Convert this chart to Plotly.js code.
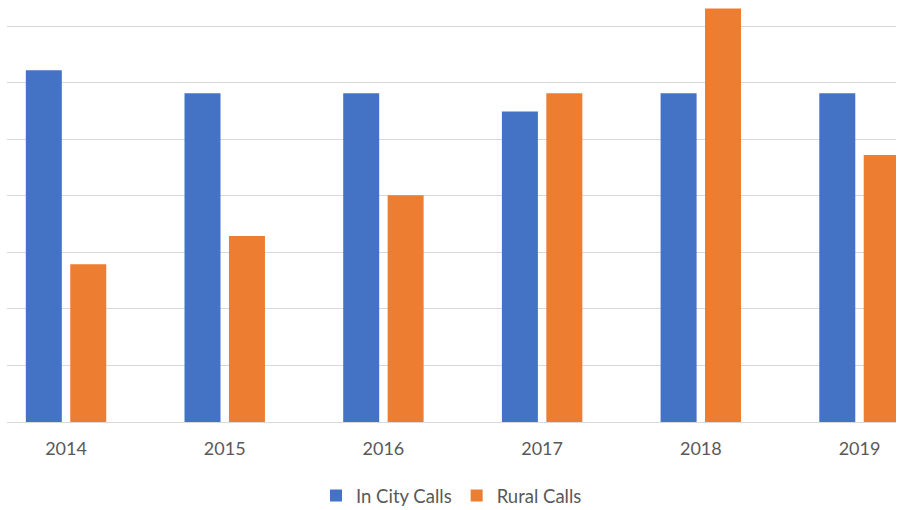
<!DOCTYPE html>
<html>
<head>
<meta charset="utf-8">
<script src="https://cdn.plot.ly/plotly-3.0.1.min.js"></script>
<style>html,body{margin:0;padding:0;background:#fff;}#chart{width:906px;height:510px;}</style>
</head>
<body>
<div id="chart"></div>
<script>
const years = ['2014', '2015', '2016', '2017', '2018', '2019'];
const inCityCalls = [6.22, 5.81, 5.81, 5.49, 5.81, 5.81];
const ruralCalls = [2.79, 3.29, 4.01, 5.81, 7.31, 4.72];

const traces = [
  {type: 'bar', name: 'In City Calls', x: years, y: inCityCalls,
   marker: {color: '#4472C4'}, hoverinfo: 'x+y'},
  {type: 'bar', name: 'Rural Calls', x: years, y: ruralCalls,
   marker: {color: '#ED7D31'}, hoverinfo: 'x+y'}
];

const layout = {
  width: 906, height: 510,
  margin: {l: 7, r: 10, t: 0, b: 88, autoexpand: false},
  paper_bgcolor: '#ffffff', plot_bgcolor: '#ffffff',
  barmode: 'group', bargap: 0.44, bargroupgap: 0.19,
  font: {family: 'Lato, "Open Sans", sans-serif', size: 17, color: '#595959'},
  xaxis: {type: 'category', range: [-0.372, 5.23], showgrid: false, automargin: false,
    showline: false, ticks: 'outside', ticklen: 10, tickcolor: 'rgba(0,0,0,0)',
    tickfont: {size: 18, color: '#595959'}, fixedrange: true},
  yaxis: {range: [0, 7.46], dtick: 1, showticklabels: false, showgrid: true, automargin: false,
    gridcolor: '#d9d9d9', gridwidth: 1, zeroline: true, zerolinecolor: '#d9d9d9',
    zerolinewidth: 1, showline: false, fixedrange: true},
  showlegend: true,
  legend: {orientation: 'h', x: 0.5, xanchor: 'center', y: -0.175, yanchor: 'middle',
    font: {size: 18.5, color: '#595959'}, traceorder: 'normal'}
};

Plotly.newPlot('chart', traces, layout, {displayModeBar: false, staticPlot: true});
</script>
</body>
</html>
